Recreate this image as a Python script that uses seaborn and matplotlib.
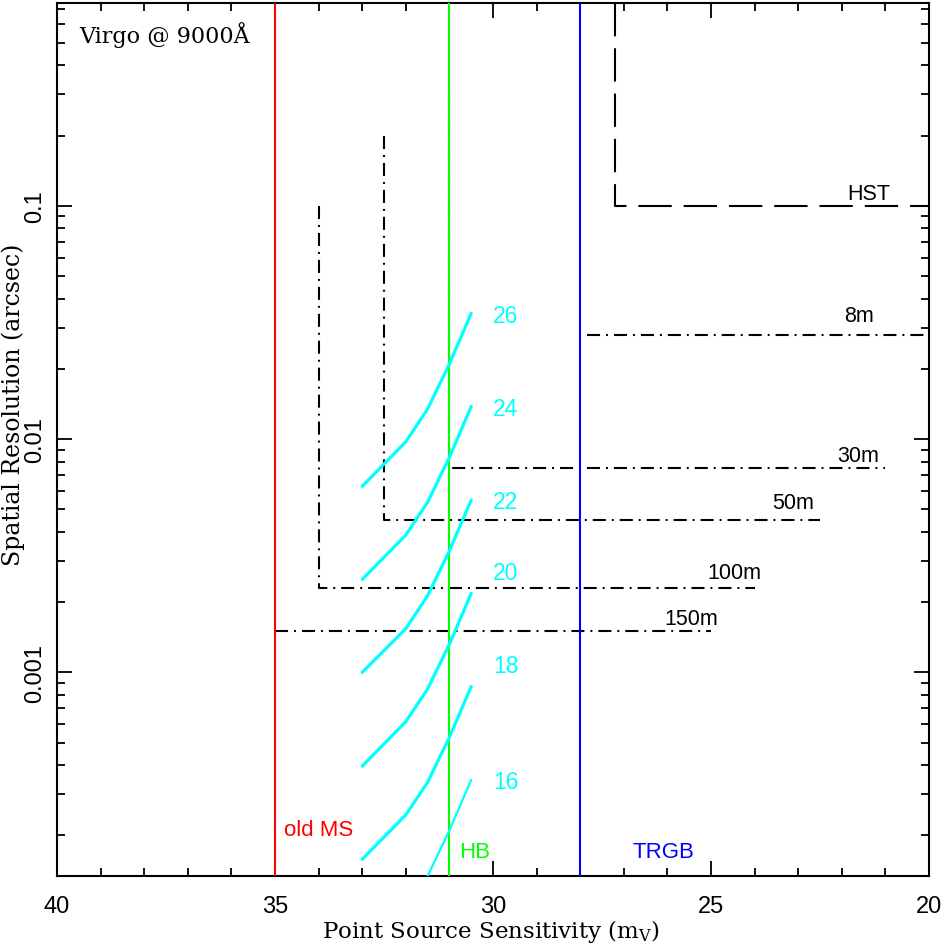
import matplotlib
matplotlib.use("Agg")
import matplotlib.pyplot as plt
import numpy as np
import pandas as pd
import seaborn as sns
from matplotlib.ticker import MultipleLocator, LogLocator, NullFormatter, FuncFormatter

# ---------------- data ----------------
curve_mag = [33.0, 32.0, 31.5, 31.0, 30.5]
curve_labels = ["26", "24", "22", "20", "18", "16"]
res_26 = [0.00627, 0.00974, 0.01345, 0.02100, 0.03460]
res_24 = [0.00250, 0.00388, 0.00536, 0.00835, 0.01380]
res_22 = [0.00100, 0.00154, 0.00213, 0.00332, 0.00548]
res_20 = [0.000396, 0.000615, 0.000849, 0.00132, 0.00218]
res_18 = [0.000158, 0.000245, 0.000338, 0.000527, 0.000869]
res_16 = [0.0000627, 0.0000974, 0.000134, 0.000210, 0.000346]
curve_res = [res_26, res_24, res_22, res_20, res_18, res_16]

pop_names = ["old MS", "HB", "TRGB"]
pop_mag = [35.0, 31.0, 28.0]

tel_names = ["HST", "8m", "30m", "50m", "100m", "150m"]
tel_mag_limit = [27.2, 27.85, 31.0, 32.5, 34.0, 35.0]
tel_res_limit = [0.1, 0.028, 0.0075, 0.0045, 0.0023, 0.0015]
tel_res_top = [0.74, 0.028, 0.3, 0.2, 0.1, 0.0015]
tel_mag_end = [20.0, 20.0, 21.0, 22.5, 24.0, 25.0]

x_ticks = [40, 35, 30, 25, 20]
y_ticks = [0.1, 0.01, 0.001]

# ---------------- style ----------------
sns.set_style("ticks")
plt.rcParams["font.family"] = ["Liberation Sans", "DejaVu Sans"]
plt.rcParams["lines.scale_dashes"] = False
plt.rcParams["mathtext.fontset"] = "dejavuserif"
for k in ["text.color", "axes.labelcolor", "xtick.color", "ytick.color", "axes.edgecolor"]:
    plt.rcParams[k] = "black"

W, H = 945, 953
fig = plt.figure(figsize=(W / 100, H / 100), dpi=100)
ax = fig.add_axes([57 / W, 76 / H, 872 / W, 873 / H])
ax.set_yscale("log")
ax.set_xlim(40, 20)
ax.set_ylim(1.34e-4, 0.74)

# telescope limits (black)
for name, xm, yr, yt, xe in zip(tel_names, tel_mag_limit, tel_res_limit, tel_res_top, tel_mag_end):
    dash = (24, 8.6) if name == "HST" else (9.4, 4.3, 1.4, 4.3)
    ax.plot([xm, xm, xe], [yt, yr, yr], color="black", lw=1.5, dashes=dash, zorder=2,
            dash_capstyle="butt")

# population lines
pop_colors = ["#ff0000", "#00ff00", "#0000ff"]
for xm, c in zip(pop_mag, pop_colors):
    ax.axvline(xm, color=c, lw=1.5, zorder=3)

# cyan curves
rows = []
for lab, rs in zip(curve_labels, curve_res):
    for xm, r in zip(curve_mag, rs):
        rows.append({"mag": xm, "res": r, "sb": lab})
df = pd.DataFrame(rows)
for lab in curve_labels:
    sub = df[df["sb"] == lab]
    sns.lineplot(data=sub, x="mag", y="res", ax=ax, color="#00ffff",
                 lw=1.6 if lab == "16" else 2.3, sort=False, estimator=None, zorder=4,
                 legend=False)

# ---------------- text ----------------
cyan_label_y = [0.034, 0.01355, 0.00538, 0.002685, 0.001069, 0.00034]
for lab, yy in zip(curve_labels, cyan_label_y):
    ax.text(30.0, yy, lab, color="#00ffff", fontsize=16.5, ha="left", va="center", zorder=5)

tel_label_pos = [(20.9, 0.1127), (21.26, 0.034), (21.15, 0.00854), (22.64, 0.00536),
                 (23.84, 0.002685), (24.84, 0.00171)]
for name, (xx, yy) in zip(tel_names, tel_label_pos):
    ax.text(xx, yy, name, color="black", fontsize=15.5, ha="right", va="center", zorder=5)

pop_label_pos = [(34.8, 2.13e-4), (30.78, 1.70e-4), (26.79, 1.71e-4)]
for name, (xx, yy), c in zip(pop_names, pop_label_pos, pop_colors):
    ax.text(xx, yy, name, color=c, fontsize=16, ha="left", va="center", zorder=5)

ax.text(0.0252, 0.9645, "Virgo @ 9000Å", transform=ax.transAxes, fontsize=16,
        family="DejaVu Serif", ha="left", va="center", color="black")

# ---------------- axes ----------------
ax.xaxis.set_major_locator(plt.FixedLocator(x_ticks))
ax.xaxis.set_minor_locator(MultipleLocator(1))
ax.yaxis.set_major_locator(plt.FixedLocator(y_ticks))
ax.yaxis.set_minor_locator(LogLocator(base=10, subs=np.arange(2, 10), numticks=20))
ax.yaxis.set_minor_formatter(NullFormatter())
ax.xaxis.set_major_formatter(FuncFormatter(lambda v, p: f"{v:g}"))
ax.yaxis.set_major_formatter(FuncFormatter(lambda v, p: f"{v:g}"))

ax.tick_params(which="both", direction="in", top=True, right=True, width=1.3, color="black",
               labelcolor="black")
ax.tick_params(which="major", length=10.5, labelsize=17, pad=14)
ax.tick_params(which="minor", length=5.5)
ax.tick_params(axis="y", which="major", pad=8)
for t in ax.get_yticklabels():
    t.set_rotation(90)
    t.set_va("center")
for s in ax.spines.values():
    s.set_linewidth(1.5)
    s.set_color("black")

ax.set_xlabel("Point Source Sensitivity (m$_{\\rm V}$)", family="DejaVu Serif", fontsize=16.5,
              color="black")
ax.set_ylabel("Spatial Resolution (arcsec)", family="DejaVu Serif", fontsize=17, color="black")
ax.xaxis.label.set_va("center")
ax.yaxis.label.set_va("center")
ax.xaxis.set_label_coords(0.4977, -0.063)
ax.yaxis.set_label_coords(-0.0505, 0.5407)

fig.savefig("out.png", dpi=100)
